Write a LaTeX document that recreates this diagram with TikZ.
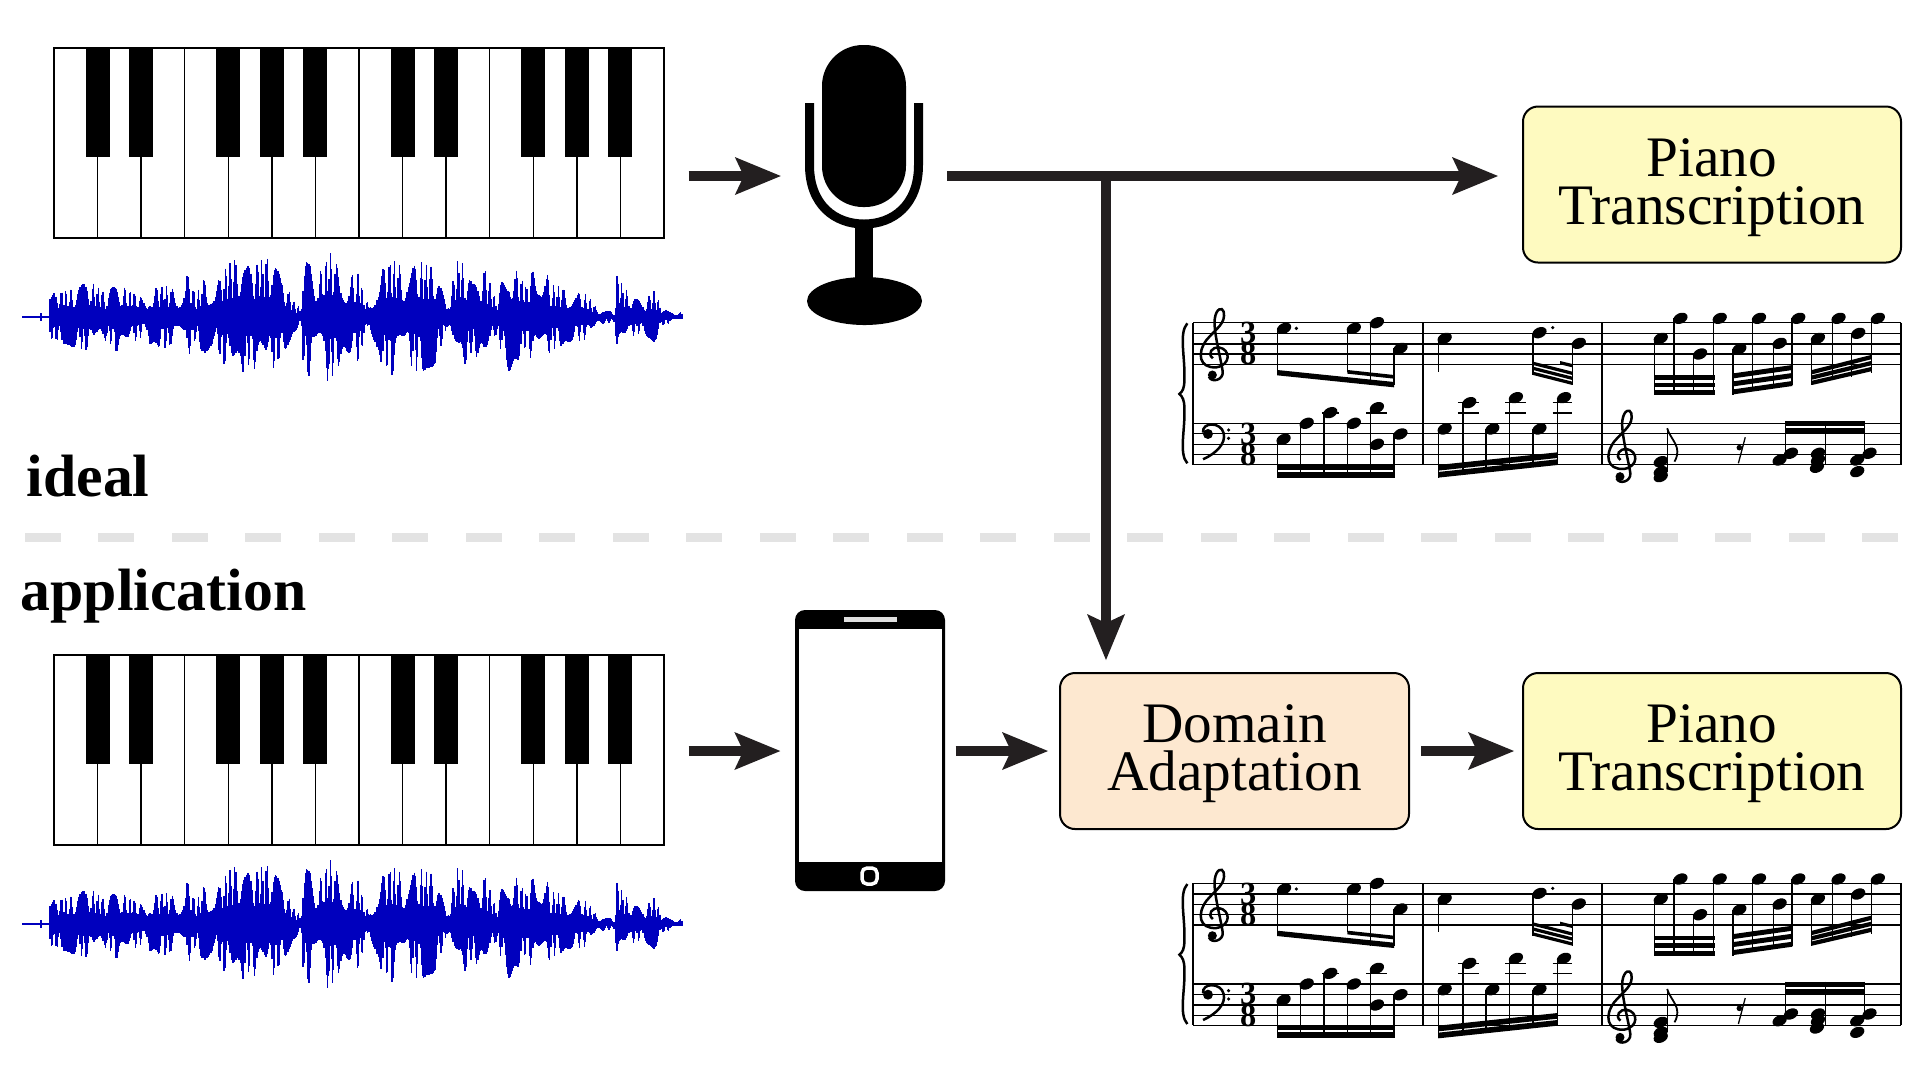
\documentclass[tikz,border=0pt]{standalone}
\usepackage{fontspec}
\setmainfont{Liberation Serif}
\usepackage{tikz}
\usetikzlibrary{positioning}
\usetikzlibrary{arrows.meta}
\definecolor{flowgray}{HTML}{231F20}
\definecolor{wavecolor}{HTML}{0000BE}
\definecolor{yellowbox}{HTML}{FEFAC0}
\definecolor{orangebox}{HTML}{FDE8D0}
\definecolor{dashgray}{HTML}{E3E3E3}
\tikzset{
	flow/.style={color=flowgray,line width=1mm,-{Stealth[length=4.6mm,width=3.8mm,inset=0.9mm,line width=0pt]}},
	procbox/.style={draw=black,line width=0.2mm,rounded corners=1.5mm,align=center,inner sep=0pt,text depth=1.8pt,font=\fontsize{16.3pt}{13.6pt}\selectfont},
	iconbox/.style={inner sep=0pt,minimum height=2cm},
	headlabel/.style={anchor=base west,inner sep=0pt,font=\fontsize{17pt}{18pt}\selectfont\bfseries},
	staffline/.style={line width=0.12mm},
	barline/.style={line width=0.2mm},
	stemline/.style={line width=0.13mm},
	clefline/.style={line width=0.25mm},
	digit/.style={inner sep=0pt,font=\fontsize{9.2pt}{9.2pt}\selectfont\bfseries},
	keyboard/.pic={
		\foreach \k in {1,...,13} {
			\draw[line width=0.15mm] (54+\k*43.57,48) -- (54+\k*43.57,238);
		}
		\draw[line width=0.13mm] (54,48) rectangle (664,238);
		\foreach \k in {1,2,4,5,6,8,9,11,12,13} {
			\fill (54+\k*43.57-12,48) rectangle (54+\k*43.57+12,157);
		}
	},
	waveform/.pic={
		\draw[wavecolor,line width=0.2mm] (22,317) -- (50,317);
		\draw[wavecolor,line width=0.2mm] (41,313) -- (41,321);
		\foreach \xb/\ab [remember=\xb as \xa (initially 50),remember=\ab as \aa (initially 21)] in
			{91/33,107/21,116/33,138/21,147/14,150/26,165/29,178/24,187/40,196/21,205/38,214/24,224/45,
			239/57,251/45,266/57,282/38,294/14,300/9,303/41,310/61,318/38,329/62,343/38,358/41,369/10,
			377/38,392/55,407/41,419/52,435/45,447/10,459/57,472/31,484/46,496/17,509/53,527/29,539/60,
			551/31,570/24,588/21,597/7,614/5,617/39,631/19,643/14,654/24,664/7,683/4} {
			\pgfmathsetmacro{\xs}{\xa+1.2}
			\foreach \t in {\xa,\xs,...,\xb} {
				\pgfmathsetmacro{\env}{\aa+(\ab-\aa)*(\t-\xa)/(\xb-\xa)}
				\pgfmathsetmacro{\sa}{sin(\t*23+90*sin(\t*11))}
				\pgfmathsetmacro{\sb}{sin(\t*17+90*sin(\t*13))}
				\pgfmathsetmacro{\up}{\env*(.36+.72*\sa*\sa)}
				\pgfmathsetmacro{\dn}{\env*(.36+.72*\sb*\sb)}
				\draw[wavecolor,line width=0.13mm] (\t,317-\up) -- (\t,317+\dn);
			}
		}
	},
	trebleclef/.pic={
		\draw[clefline] (128,205) .. controls (115,190) and (128,170) .. (140,172)
			.. controls (165,178) and (165,225) .. (135,232)
			.. controls (100,235) and (95,190) .. (115,150)
			.. controls (135,115) and (155,100) .. (150,65)
			.. controls (147,50) and (135,55) .. (132,85)
			.. controls (128,120) and (145,210) .. (148,245)
			.. controls (150,270) and (125,280) .. (120,260);
		\fill (127,255) ellipse [x radius=0.45mm,y radius=0.45mm];
	},
	scorerow/.pic={
		\begin{scope}[x=0.04912mm,y=-0.03333mm]
			\foreach \y in {98,130,162,192,223,400,431,463,494,524} {
				\draw[staffline] (88,\y) -- (1530,\y);
			}
			\foreach \x in {88,555,920,1530} {
				\draw[barline] (\x,98) -- (\x,524);
			}
			% brace
			\draw[clefline] (76,100) .. controls (58,130) and (72,200) .. (70,270)
				.. controls (70,295) and (66,305) .. (60,312)
				.. controls (66,320) and (70,330) .. (70,355)
				.. controls (72,420) and (58,490) .. (76,520);
			% clefs and metre
			\pic at (0,0) {trebleclef};
			\pic at (830,305) {trebleclef};
			\draw[clefline] (108,508) .. controls (135,490) and (155,460) .. (150,430)
				.. controls (145,395) and (105,395) .. (108,428);
			\fill (118,432) ellipse [x radius=0.5mm,y radius=0.5mm];
			\foreach \y in {420,445} {
				\fill (160,\y) circle [radius=0.18mm];
			}
			\node[digit] (upperthree) at (200,130) {3};
			\node[digit] (uppereight) at (200,192) {8};
			\node[digit] (lowerthree) at (200,431) {3};
			\node[digit] (lowereight) at (200,495) {8};
			% noteheads with their stems
			\foreach \nx/\ny/\sy in {273/115/250,415/115/245,462/98/285,510/175/285,
				600/145/245,793/128/255,873/160/285,
				1040/145/315,1080/85/315,1120/192/315,1160/85/315,
				1200/177/315,1240/85/300,1282/160/295,1320/85/285,
				1360/145/285,1402/85/270,1442/130/260,1482/85/250,
				272/448/563,319/400/563,367/368/563,415/400/563,462/353/563,510/432/563,
				600/417/563,650/338/550,697/417/545,745/323/535,793/417/530,843/323/525} {
				\draw[stemline] (\nx-13,\ny) -- (\nx-13,\sy);
				\fill (\nx,\ny) ellipse [x radius=0.75mm,y radius=0.52mm,rotate=25];
			}
			\foreach \nx/\ny in {462/463,1040/515,1040/545,1040/560,1282/510,1305/490,
				1360/490,1360/510,1358/532,1440/510,1465/490,1440/545} {
				\fill (\nx,\ny) ellipse [x radius=0.75mm,y radius=0.52mm,rotate=25];
			}
			\foreach \x/\ya/\yb in {1053/415/545,1294/393/495,1375/393/525,1455/393/495} {
				\draw[stemline] (\x,\ya) -- (\x,\yb);
			}
			\draw[clefline,line width=0.18mm] (1053,415) .. controls (1060,450) and (1085,470) .. (1068,515);
			\fill (298,115) circle [radius=0.18mm];
			\fill (820,113) circle [radius=0.18mm];
			% rest
			\fill (1200,473) circle [radius=0.28mm];
			\draw[stemline] (1212,442) -- (1198,520);
			% ledger lines
			\foreach \xa/\xb/\y in {350/385/369,440/483/369,627/670/338,627/670/369,723/766/338,723/766/369,820/860/338,820/860/369} {
				\draw[staffline] (\xa,\y) -- (\xb,\y);
			}
			% beams
			\foreach \xa/\ya/\xb/\yb/\th in {259/240/497/276/16,402/240/497/255/11,
				780/215/860/245/10,780/230/860/260/10,780/245/860/275/10,835/213/860/222/10,
				1027/255/1150/255/14,1027/278/1150/278/14,1027/301/1150/301/14,
				1188/250/1308/225/15,1188/274/1308/249/15,1188/298/1308/273/15,
				1348/240/1468/195/13,1348/256/1468/213/13,1348/272/1468/231/13,
				258/522/497/522/17,258/545/497/545/18,
				587/525/830/487/17,587/546/830/508/17,
				1294/393/1455/393/16,1294/415/1455/415/17} {
				\fill (\xa,\ya) -- (\xb,\yb) -- (\xb,\yb+\th) -- (\xa,\ya+\th) -- cycle;
			}
		\end{scope}
	},
}
\begin{document}
\begin{tikzpicture}[x=0.1mm,y=-0.1mm]
	\useasboundingbox (0,0) rectangle (1920,1080);
	
	% keyboards and recordings
	\pic at (0,0) {keyboard};
	\pic at (0,607) {keyboard};
	\pic at (0,0) {waveform};
	\pic at (0,607) {waveform};
	\node[iconbox,minimum width=61mm] (keysA) at (359,176) {};
	\node[iconbox,minimum width=61mm] (keysB) at (359,751) {};
	
	% microphone
	\node[iconbox,minimum width=11.9mm] (micA) at (864,176) {};
	\fill[rounded corners=4.1mm] (822,45) rectangle (906,207);
	\draw[line width=0.9mm] (809.5,103) -- (809.5,165) .. controls (809.5,205) and (835,224) .. (864,224)
		.. controls (893,224) and (918.5,205) .. (918.5,165) -- (918.5,103);
	\fill (855,226) rectangle (873,285);
	\fill (864.5,301) ellipse [x radius=5.75mm,y radius=2.4mm];
	
	% phone
	\node[iconbox,minimum width=15mm] (phoneB) at (870,751) {};
	\fill[rounded corners=1mm] (795,610) rectangle (945,891);
	\fill[white] (799,629) rectangle (942,862);
	\fill[white!88!black] (844,617) rectangle (897,622);
	\draw[white,line width=0.35mm,rounded corners=0.5mm] (862,868) rectangle (877,884);
	
	% boxes
	\node[procbox,fill=yellowbox,minimum width=37.8mm,minimum height=15.6mm] (pianoA) at (1712,184.5) {Piano\\Transcription};
	\node[procbox,fill=orangebox,minimum width=34.9mm,minimum height=15.6mm] (domainB) at (1234.5,751) {Domain\\Adaptation};
	\node[procbox,fill=yellowbox,minimum width=37.8mm,minimum height=15.6mm] (pianoB) at (1712,751) {Piano\\Transcription};
	
	% scores
	\pic (scoreA) at (1150,290) {scorerow};
	\pic (scoreB) at (1150,850.7) {scorerow};
	
	% separator and labels
	\coordinate (sepL) at (25,537.5);
	\coordinate (sepR) at (1901,537.5);
	\draw[dashgray,line width=0.9mm,dash pattern=on 3.6mm off 3.75mm] (sepL) -- (sepR);
	\node[headlabel] (ideal) at (26,496) {ideal};
	\node[headlabel] (application) at (20,610) {application};
	
	% connectors
	\coordinate (branch) at (1106,176);
	\draw[flow,shorten <=2.4mm,shorten >=2.3mm] (keysA.east) to (micA.west);
	\draw[flow,shorten <=2.3mm,shorten >=2.4mm] (micA.east) to (pianoA.west |- micA.east);
	\draw[flow,shorten >=1.2mm] (branch) to (branch |- domainB.north);
	\draw[flow,shorten <=2.4mm,shorten >=1.4mm] (keysB.east) to (phoneB.west);
	\draw[flow,shorten <=1mm,shorten >=1.1mm] (phoneB.east) to (domainB.west);
	\draw[flow,shorten <=1.1mm,shorten >=0.8mm] (domainB.east) to (pianoB.west);
\end{tikzpicture}
\end{document}
